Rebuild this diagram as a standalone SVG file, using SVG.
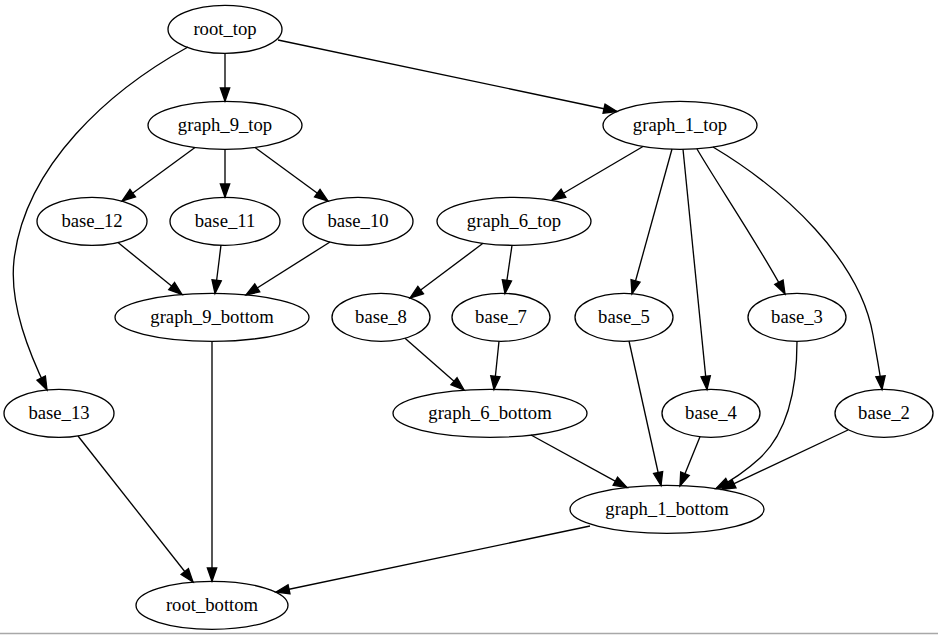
<svg xmlns="http://www.w3.org/2000/svg" width="938" height="635" viewBox="0 0 938 635">
<defs>
<style>
.n ellipse{fill:none;stroke:#000;stroke-width:1.33}
.n text{font-family:"Liberation Serif","Times New Roman",serif;font-size:18.67px;text-anchor:middle;fill:#000}
#edges path{fill:none;stroke:#000;stroke-width:1.33;marker-end:url(#arr)}
</style>
<marker id="arr" viewBox="0 0 13.3 9.33" refX="13.3" refY="4.67" markerWidth="13.3" markerHeight="9.33" markerUnits="userSpaceOnUse" orient="auto" overflow="visible">
<path d="M0,0L13.3,4.67L0,9.33z" fill="#000" stroke="#000" stroke-width="1.33"/>
</marker>
</defs>
<rect x="0" y="0" width="938" height="635" fill="#fff"/>
<line x1="0" y1="633.5" x2="938" y2="633.5" stroke="#a8a8a8" stroke-width="1.5"/>
<g id="edges">
<path d="M225,53.3L225,101.3"/>
<path d="M278,40L617,111.5"/>
<path d="M188,47C110,90 25,165 14,260C9,305 30,355 47,390"/>
<path d="M195,147.5L122,201"/>
<path d="M225,149.3L225,197.3"/>
<path d="M255,147.5L328,201"/>
<path d="M118,242.5L182,294.5"/>
<path d="M221,245L215,293.5"/>
<path d="M330,242L246,295"/>
<path d="M212,341.3L212,581.3"/>
<path d="M78,436L193,582"/>
<path d="M590,526L276,592"/>
<path d="M643,146.5L552,200"/>
<path d="M672,149L632,293.7"/>
<path d="M683,149.3L707,389.5"/>
<path d="M697,149C715,180 765,255 785,294"/>
<path d="M713,147C785,190 860,260 873,335C876.5,355 880,372 882,389.5"/>
<path d="M483,243.3L410,298"/>
<path d="M512,245.3L505,293.5"/>
<path d="M405,338.2L464,390"/>
<path d="M499,341.3L494,389.5"/>
<path d="M531,435L627,487.6"/>
<path d="M629,341L661,485.5"/>
<path d="M700,436.7L680,486"/>
<path d="M797,341.3C797,385 790,430 760,458C748,469 733,480 716,488.6"/>
<path d="M848,430L722,489.4"/>
</g>
<g id="root_top" class="n"><ellipse cx="225" cy="29.3" rx="57" ry="24"/><text x="225" y="34.8">root_top</text></g>
<g id="graph_9_top" class="n"><ellipse cx="225" cy="125.3" rx="77" ry="24"/><text x="225" y="130.8">graph_9_top</text></g>
<g id="graph_1_top" class="n"><ellipse cx="680" cy="125.3" rx="77" ry="24"/><text x="680" y="130.8">graph_1_top</text></g>
<g id="base_12" class="n"><ellipse cx="92" cy="221.3" rx="55" ry="24"/><text x="92" y="226.8">base_12</text></g>
<g id="base_11" class="n"><ellipse cx="225" cy="221.3" rx="55" ry="24"/><text x="225" y="226.8">base_11</text></g>
<g id="base_10" class="n"><ellipse cx="358" cy="221.3" rx="55" ry="24"/><text x="358" y="226.8">base_10</text></g>
<g id="graph_6_top" class="n"><ellipse cx="514" cy="221.3" rx="77" ry="24"/><text x="514" y="226.8">graph_6_top</text></g>
<g id="graph_9_bottom" class="n"><ellipse cx="212" cy="317.3" rx="97" ry="24"/><text x="212" y="322.8">graph_9_bottom</text></g>
<g id="base_8" class="n"><ellipse cx="381" cy="317.3" rx="49" ry="24"/><text x="381" y="322.8">base_8</text></g>
<g id="base_7" class="n"><ellipse cx="501" cy="317.3" rx="49" ry="24"/><text x="501" y="322.8">base_7</text></g>
<g id="base_5" class="n"><ellipse cx="624" cy="317.3" rx="49" ry="24"/><text x="624" y="322.8">base_5</text></g>
<g id="base_3" class="n"><ellipse cx="797" cy="317.3" rx="49" ry="24"/><text x="797" y="322.8">base_3</text></g>
<g id="base_13" class="n"><ellipse cx="59" cy="413.3" rx="55" ry="24"/><text x="59" y="418.8">base_13</text></g>
<g id="graph_6_bottom" class="n"><ellipse cx="490" cy="413.3" rx="97" ry="24"/><text x="490" y="418.8">graph_6_bottom</text></g>
<g id="base_4" class="n"><ellipse cx="711" cy="413.3" rx="49" ry="24"/><text x="711" y="418.8">base_4</text></g>
<g id="base_2" class="n"><ellipse cx="884" cy="413.3" rx="49" ry="24"/><text x="884" y="418.8">base_2</text></g>
<g id="graph_1_bottom" class="n"><ellipse cx="667" cy="509.3" rx="97" ry="24"/><text x="667" y="514.8">graph_1_bottom</text></g>
<g id="root_bottom" class="n"><ellipse cx="212" cy="605.3" rx="76" ry="24"/><text x="212" y="610.8">root_bottom</text></g>
</svg>
